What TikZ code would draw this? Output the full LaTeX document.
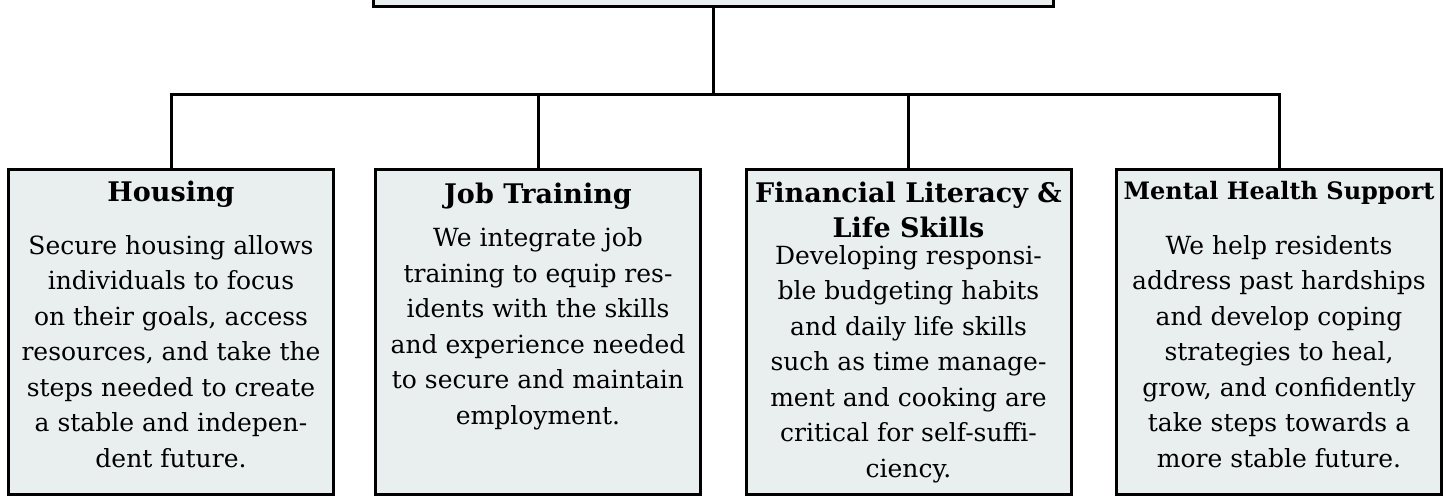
\documentclass[tikz,border=0pt]{standalone}
\usepackage{fontspec}
\setmainfont{DejaVu Serif}
\usetikzlibrary{positioning}
\definecolor{boxfill}{RGB}{233,239,239}

\begin{document}
\begin{tikzpicture}[x=1pt,y=-1pt]
\tikzstyle{prog}=[draw, line width=3pt, fill=boxfill, minimum width=325pt, minimum height=325pt, inner sep=0pt]
\tikzstyle{head}=[anchor=base, align=center, inner sep=0pt, font=\bfseries\fontsize{27}{35}\selectfont]
\tikzstyle{body}=[anchor=base, align=center, inner sep=0pt, font=\fontsize{25}{35.5}\selectfont]
\tikzstyle{link}=[draw, line width=3pt]
\useasboundingbox (0,0) rectangle (1455,499);
\node [prog, minimum width=680pt, minimum height=80pt] (mission) at (713.5,-33.3) {};
\node [prog] (housing) at (171,332) {};
\node [prog] (jobs) at (538,332) {};
\node [prog] (finance) at (908.5,332) {};
\node [prog] (mental) at (1279,332) {};
\coordinate (bar) at (713.5,94);
% anchor base = baseline of the last line
\node [head] (housingHead) at ([yshift=-33pt]housing.north) {Housing};
\node [body] (housingText) at ([yshift=-299pt]housing.north) {Secure housing allows\\individuals to focus\\on their goals, access\\resources, and take the\\steps needed to create\\a stable and indepen-\\dent future.};
\node [head] (jobsHead) at ([yshift=-35pt]jobs.north) {Job Training};
\node [body] (jobsText) at ([yshift=-256pt]jobs.north) {We integrate job\\training to equip res-\\idents with the skills\\and experience needed\\to secure and maintain\\employment.};
\node [head] (financeHead) at ([yshift=-69pt]finance.north) {Financial Literacy \&\\Life Skills};
\node [body] (financeText) at ([yshift=-309pt]finance.north) {Developing responsi-\\ble budgeting habits\\and daily life skills\\such as time manage-\\ment and cooking are\\critical for self-suffi-\\ciency.};
\node [head, font=\bfseries\fontsize{24}{30}\selectfont] (mentalHead) at ([yshift=-31pt]mental.north) {Mental Health Support};
\node [body] (mentalText) at ([yshift=-299pt]mental.north) {We help residents\\address past hardships\\and develop coping\\strategies to heal,\\grow, and confidently\\take steps towards a\\more stable future.};
\path [link] (mission.south) -- (bar);
\path [link] (housing.north) |- (bar) -| (mental.north);
\path [link] (jobs.north) -- (jobs.north |- bar);
\path [link] (finance.north) -- (finance.north |- bar);
\end{tikzpicture}
\end{document}
